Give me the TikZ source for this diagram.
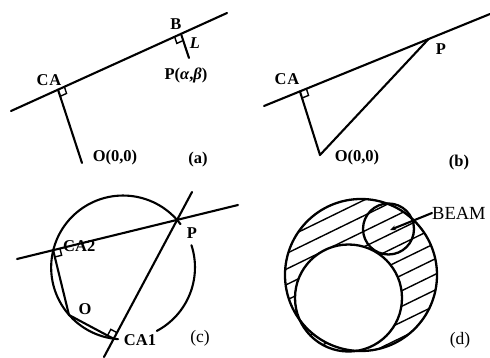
\documentclass[tikz,border=0pt]{standalone}
\usepackage{fontspec}
\setmainfont{Liberation Serif}
\usetikzlibrary{calc,arrows.meta}
\tikzset{
  geo/.style={line width=2.1pt, line cap=round, line join=round},
  circ/.style={line width=2.3pt},
  lbl/.style={font=\fontsize{16.5}{19}\selectfont\bfseries, inner sep=0pt},
  lblr/.style={font=\fontsize{17.5}{20}\selectfont, inner sep=0pt},
  ramark/.style={line width=1.4pt},
  hatch/.style={line width=1.4pt},
}
\newcommand\ramk[3]{%
  \coordinate (rm1) at ($(#1)!7pt!(#2)$);
  \coordinate (rm2) at ($(#1)!7pt!(#3)$);
  \draw[ramark] (rm1) -- ($(rm1)+(rm2)-(#1)$) -- (rm2);
}
\begin{document}
\begin{tikzpicture}[x=1pt,y=-1pt]
\useasboundingbox (0,0) rectangle (490,358);
% ---------- (a)
\coordinate (A1) at (11,111);
\coordinate (A2) at (227,13);
\coordinate (Oa) at (82,163);
\coordinate (Pa) at (189,58);
\coordinate (CAa) at ($(A1)!0.2176!(A2)$);
\coordinate (Ba) at ($(A1)!0.787!(A2)$);
\draw[geo] (A1) -- (A2);
\draw[geo] (CAa) -- (Oa);
\draw[geo] (Ba) -- (Pa);
\ramk{CAa}{A2}{Oa}
\ramk{Ba}{A1}{Pa}
\node[lbl] (tCAa) at (49,80) {C\kern1ptA};
\node[lbl] (tBa) at (176,24) {B};
\node[lbl] (tLa) at (195,43) {\textit{L}};
\node[lbl] (tPa) at (186,75) {P(\textit{α},\textit{β})};
\node[lbl] (tOa) at (115,158) {O(0,0)};
\node[lbl] (ta) at (198,160) {(a)};
% ---------- (b)
\coordinate (B1) at (264,106);
\coordinate (B2) at (490,14);
\coordinate (Ob) at (320,155);
\coordinate (CAb) at ($(B1)!0.159!(B2)$);
\coordinate (Pb) at ($(B1)!0.728!(B2)$);
\draw[geo] (B1) -- (B2);
\draw[geo] (CAb) -- (Ob) -- (Pb);
\ramk{CAb}{B2}{Ob}
\node[lbl] (tCAb) at (287,79) {C\kern1ptA};
\node[lbl] (tPb) at (441,49) {P};
\node[lbl] (tOb) at (357,158) {O(0,0)};
\node[lbl] (tb) at (459,163) {(b)};
% ---------- (c)
\coordinate (L1a) at (17,259);
\coordinate (L1b) at (238,205);
\coordinate (L2a) at (192,192);
\coordinate (L2b) at (104,357);
\coordinate (Oc) at (69,315);
\coordinate (Pc) at (intersection of L1a--L1b and L2a--L2b);
\coordinate (Cc) at ($(Oc)!0.5!(Pc)$);
\coordinate (CA2) at ($(L1a)!(Oc)!(L1b)$);
\coordinate (CA1) at ($(L2a)!(Oc)!(L2b)$);
\draw[geo] (L1a) -- (L1b);
\draw[geo] (L2a) -- (L2b);
\draw[geo] (CA2) -- (Oc) -- (CA1);
\draw[geo] (Cc) ++(-37:71.9) arc[start angle=-37, end angle=-266, radius=71.9];
\draw[geo] (Cc) ++(-18:71.9) arc[start angle=-18, end angle=62, radius=71.9];
\ramk{CA2}{L1b}{Oc}
\ramk{CA1}{L2a}{Oc}
\node[lbl, anchor=west] (tCA2) at (63,246) {CA2};
\node[lbl] (tPc) at (192,233) {P};
\node[lbl] (tOc) at (85,309) {O};
\node[lbl] (tCA1) at (140,340) {CA1};
\node[lblr] (tc) at (200,338) {(c)};
% ---------- (d)
\coordinate (Cd) at (361,275);
\coordinate (Ci) at (348.5,298);
\coordinate (Cb) at (388.5,229);
\begin{scope}[even odd rule]
  \clip (Cd) circle[radius=76] (Ci) circle[radius=53.5];
  \begin{scope}[shift={(Cd)}, rotate=26]
    \foreach \k in {-6,...,6} \draw[hatch] (-90,\k*14+4) -- (90,\k*14+4);
  \end{scope}
\end{scope}
\draw[circ] (Cd) circle[radius=76];
\draw[circ] (Ci) circle[radius=53.5];
\draw[circ] (Cb) circle[radius=25.5];
\node[lblr, font=\fontsize{18.5}{20}\selectfont, anchor=west] (tBeam) at (432,213) {BEAM};
\coordinate (beamtip) at (390,230);
\draw[geo, -{Stealth[length=6pt,width=5pt]}] (tBeam.west) -- (beamtip);
\node[lblr] (td) at (460,340) {(d)};
\end{tikzpicture}
\end{document}
